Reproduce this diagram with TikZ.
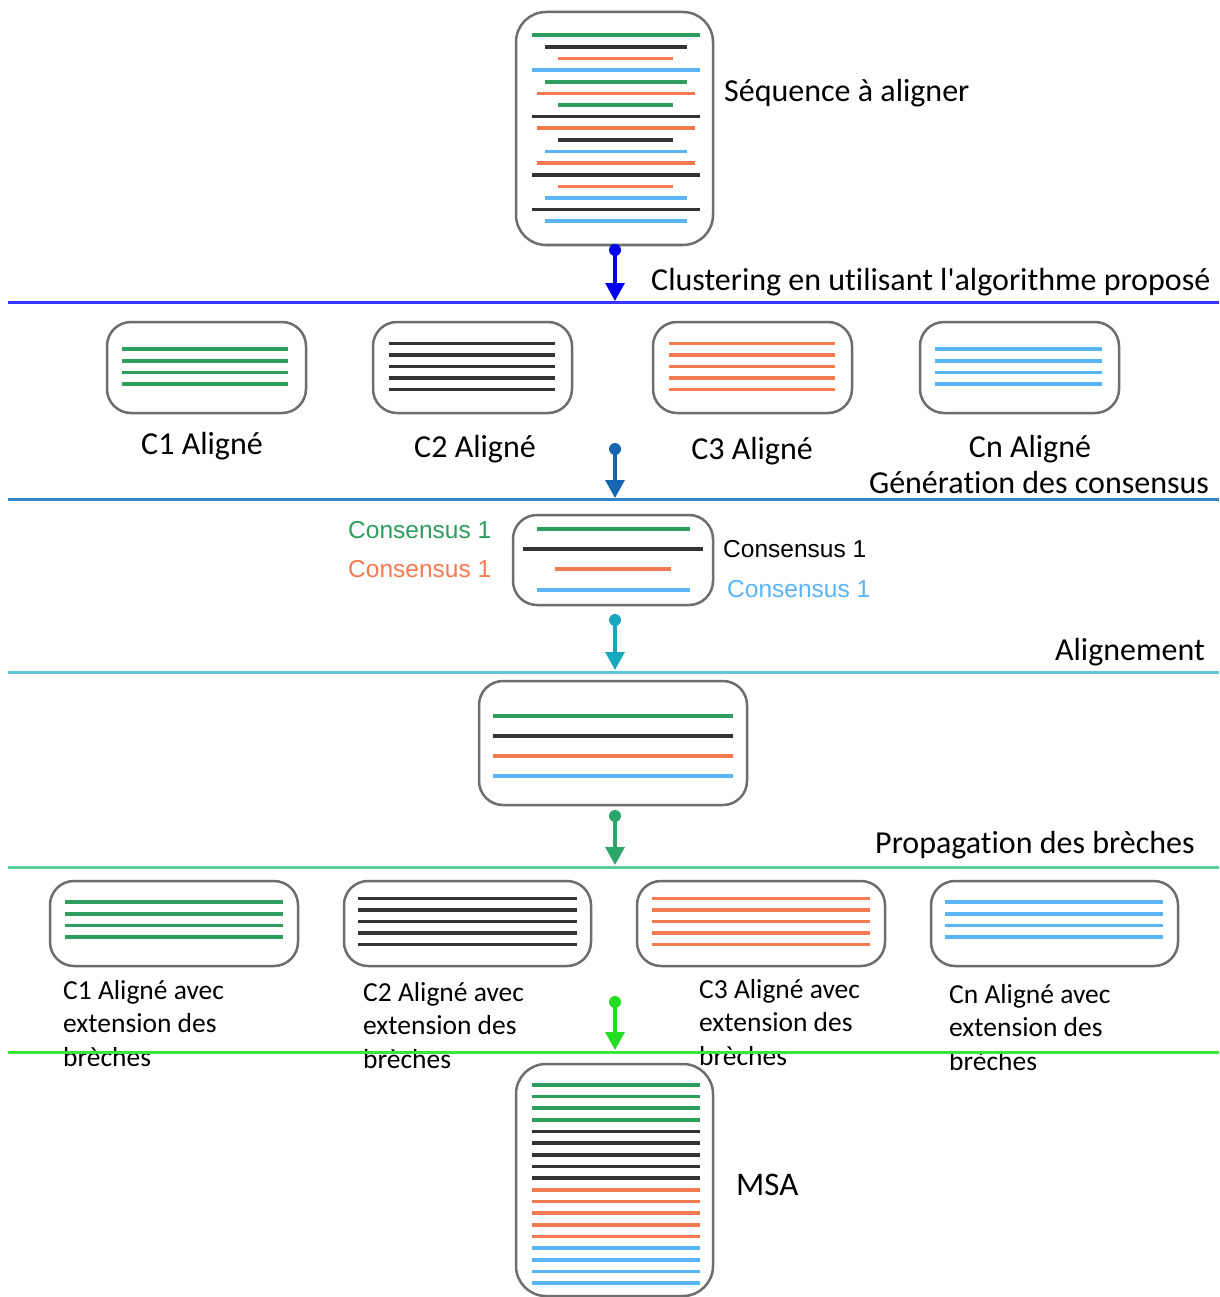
\documentclass[tikz,border=0pt]{standalone}
\usepackage{fontspec}
\setmainfont{Carlito}[Ligatures={NoCommon,TeXOff}]
\newfontfamily\arialf{Liberation Sans}
\usetikzlibrary{arrows.meta}
\definecolor{cgreen}{HTML}{2E9E5E}
\definecolor{cblack}{HTML}{333333}
\definecolor{corange}{HTML}{F47A52}
\definecolor{cblue}{HTML}{5AB4F8}
\definecolor{boxgray}{HTML}{6E6E6E}
\definecolor{sepA}{HTML}{3535FF}
\definecolor{arrA}{HTML}{0000F0}
\definecolor{sepB}{HTML}{2E86C8}
\definecolor{arrB}{HTML}{1565B0}
\definecolor{sepC}{HTML}{5CC8D8}
\definecolor{arrC}{HTML}{17A8C0}
\definecolor{sepD}{HTML}{5ACF98}
\definecolor{arrD}{HTML}{2BA56A}
\definecolor{sepE}{HTML}{3CE63C}
\definecolor{arrE}{HTML}{22DD22}
\newcommand\seqln[4]{\draw[seqline,#1] (#2,#4) -- (#3,#4);}
\begin{document}
\begin{tikzpicture}[x=1pt,y=-1pt,
  box/.style={draw=boxgray,line width=2.5pt,rounded corners=24pt,fill=white,inner sep=0pt},
  seqline/.style={line width=3.3pt},
  sep/.style={line width=3pt},
  flow/.style={line width=3.2pt,-{Triangle[width=19pt,length=18pt]}},
  lbl/.style={font=\fontsize{32}{38}\selectfont,inner sep=0pt},
  small/.style={font=\fontsize{27.5}{33.5}\selectfont,inner sep=0pt,align=left},
  cons/.style={font=\arialf\fontsize{24.5}{28}\selectfont,inner sep=0pt}
]
\useasboundingbox[fill=white] (0,0) rectangle (1219,1297);

% ---- top box
\node[box,rounded corners=30pt,minimum width=197pt,minimum height=233pt] (top) at (614.5,128.5) {};
\seqln{cgreen}{532}{700}{35}
\seqln{cblack}{545}{687}{47}
\seqln{corange}{558}{673}{58.5}
\seqln{cblue}{532}{700}{70}
\seqln{cgreen}{545}{687}{82}
\seqln{corange}{537}{695}{93.5}
\seqln{cgreen}{558}{673}{105}
\seqln{cblack}{532}{700}{116.5}
\seqln{corange}{537}{695}{128}
\seqln{cblack}{558}{673}{140}
\seqln{cblue}{545}{687}{151.5}
\seqln{corange}{537}{695}{163}
\seqln{cblack}{532}{700}{175}
\seqln{corange}{558}{673}{186.5}
\seqln{cblue}{545}{687}{198}
\seqln{cblack}{532}{700}{209.5}
\seqln{cblue}{545}{687}{221}
\node[lbl,anchor=base west] (seqlbl) at (724,102) {Séquence à aligner};

% ---- separator 1
\coordinate (a1s) at (615,250);
\coordinate (a1e) at (615,301);
\fill[arrA] (a1s) circle (6pt);
\draw[flow,arrA] (a1s) -- (a1e);
\coordinate (s1l) at (8,302);
\coordinate (s1r) at (1219,302);
\draw[sep,sepA] (s1l) -- (s1r);
\node[lbl,anchor=base west] (clust) at (651,290) {Clustering en utilisant l'algorithme proposé};

% ---- clusters row 1
\node[box,minimum width=199pt,minimum height=91pt] (c1) at (206.5,367.5) {};
\node[box,minimum width=199pt,minimum height=91pt] (c2) at (472.5,367.5) {};
\node[box,minimum width=199pt,minimum height=91pt] (c3) at (752.5,367.5) {};
\node[box,minimum width=199pt,minimum height=91pt] (cn) at (1019.5,367.5) {};
\foreach \y in {349,361,372.5,384}{\seqln{cgreen}{122}{288}{\y}}
\foreach \y in {343.5,355,366.5,378,389.5}{\seqln{cblack}{389}{555}{\y}}
\foreach \y in {343.5,355,366.5,378,389.5}{\seqln{corange}{669}{835}{\y}}
\foreach \y in {349,361,372.5,384}{\seqln{cblue}{935}{1102}{\y}}
\node[lbl,anchor=base] (c1l) at (202,454) {C1 Aligné};
\node[lbl,anchor=base] (c2l) at (475,457) {C2 Aligné};
\node[lbl,anchor=base] (c3l) at (752,459) {C3 Aligné};
\node[lbl,anchor=base] (cnl) at (1030,457) {Cn Aligné};
\node[lbl,anchor=base] (gen) at (1039,493) {Génération des consensus};

% ---- separator 2
\coordinate (a2s) at (615,449);
\coordinate (a2e) at (615,498);
\fill[arrB] (a2s) circle (6pt);
\draw[flow,arrB] (a2s) -- (a2e);
\coordinate (s2l) at (8,499);
\coordinate (s2r) at (1219,499);
\draw[sep,sepB] (s2l) -- (s2r);

% ---- consensus box
\node[box,minimum width=200pt,minimum height=90pt] (cons) at (613,560) {};
\seqln{cgreen}{537}{690}{529}
\seqln{cblack}{523}{703}{549}
\seqln{corange}{555}{671}{569}
\seqln{cblue}{537}{690}{590}
\node[cons,anchor=base west,text=cgreen] (k1) at (348,538) {Consensus 1};
\node[cons,anchor=base west,text=corange] (k3) at (348,577) {Consensus 1};
\node[cons,anchor=base west,text=black] (k2) at (723,557) {Consensus 1};
\node[cons,anchor=base west,text=cblue] (k4) at (727,597) {Consensus 1};

% ---- separator 3
\coordinate (a3s) at (615,620);
\coordinate (a3e) at (615,670);
\fill[arrC] (a3s) circle (6pt);
\draw[flow,arrC] (a3s) -- (a3e);
\coordinate (s3l) at (8,672);
\coordinate (s3r) at (1219,672);
\draw[sep,sepC] (s3l) -- (s3r);
\node[lbl,anchor=base east] (alig) at (1205,660) {Alignement};

% ---- alignment box
\node[box,minimum width=268pt,minimum height=124pt] (align) at (613,743) {};
\seqln{cgreen}{493}{733}{716}
\seqln{cblack}{493}{733}{736}
\seqln{corange}{493}{733}{756}
\seqln{cblue}{493}{733}{776}

% ---- separator 4
\coordinate (a4s) at (615,816);
\coordinate (a4e) at (615,865);
\fill[arrD] (a4s) circle (6pt);
\draw[flow,arrD] (a4s) -- (a4e);
\coordinate (s4l) at (8,867);
\coordinate (s4r) at (1219,867);
\draw[sep,sepD] (s4l) -- (s4r);
\node[lbl,anchor=base west] (prop) at (875,853) {Propagation des brèches};

% ---- clusters row 2
\node[box,minimum width=248pt,minimum height=85pt] (e1) at (174,923.5) {};
\node[box,minimum width=247pt,minimum height=85pt] (e2) at (467.5,923.5) {};
\node[box,minimum width=248pt,minimum height=85pt] (e3) at (761,923.5) {};
\node[box,minimum width=247pt,minimum height=85pt] (en) at (1054.5,923.5) {};
\foreach \y in {902,914,925.5,937}{\seqln{cgreen}{65}{283}{\y}}
\foreach \y in {898.5,910,921.5,933,944.5}{\seqln{cblack}{358}{577}{\y}}
\foreach \y in {898.5,910,921.5,933,944.5}{\seqln{corange}{652}{870}{\y}}
\foreach \y in {902,914,925.5,937}{\seqln{cblue}{945}{1163}{\y}}
\node[small,anchor=north west] (e1l) at (63,980) {C1 Aligné avec\\extension des\\brèches};
\node[small,anchor=north west] (e2l) at (363,982) {C2 Aligné avec\\extension des\\brèches};
\node[small,anchor=north west] (e3l) at (699,979) {C3 Aligné avec\\extension des\\brèches};
\node[small,anchor=north west] (enl) at (949,984) {Cn Aligné avec\\extension des\\brèches};

% ---- separator 5
\coordinate (a5s) at (615,1002);
\coordinate (a5e) at (615,1050);
\fill[arrE] (a5s) circle (6pt);
\draw[flow,arrE] (a5s) -- (a5e);
\coordinate (s5l) at (8,1052);
\coordinate (s5r) at (1219,1052);
\draw[sep,sepE] (s5l) -- (s5r);

% ---- MSA box
\node[box,rounded corners=30pt,minimum width=197pt,minimum height=232pt] (msa) at (614.5,1180) {};
\foreach \y in {1085,1096.5,1108,1120}{\seqln{cgreen}{532}{700}{\y}}
\foreach \y in {1131.5,1143,1155,1166.5,1178}{\seqln{cblack}{532}{700}{\y}}
\foreach \y in {1190,1201.5,1213,1225,1236.5}{\seqln{corange}{532}{700}{\y}}
\foreach \y in {1248,1260,1271.5,1283}{\seqln{cblue}{532}{700}{\y}}
\node[lbl,anchor=base west,font=\fontsize{33}{38}\selectfont] (msal) at (736,1195) {MSA};
\end{tikzpicture}
\end{document}
